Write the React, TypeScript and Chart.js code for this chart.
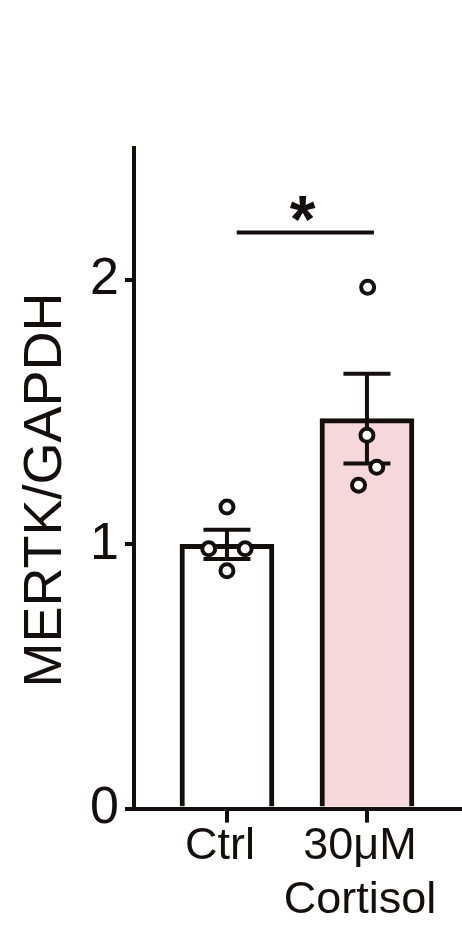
import { Chart, registerables } from "chart.js";
import { useEffect, useRef } from "react";

Chart.register(...registerables);

const groups = ["Ctrl", "30μM\nCortisol"];
const means = [1.0, 1.476];
const sems = [0.055, 0.17];
const ctrlPoints = [1.141, 0.983, 0.983, 0.9];
const ctrlJitter = [0, -0.13, 0.13, 0];
const cortisolPoints = [1.973, 1.413, 1.292, 1.224];
const cortisolJitter = [0.005, 0, 0.07, -0.06];
const yTicks = [0, 1, 2];
const sigBracket = [0.07, 1.05];
const sigLevel = 2.18;
const sigMark = "*";

const INK = "#140f0d";
const PINK = "#f5d7dc";
const FONT = "'Liberation Sans', Arial, sans-serif";

const errorBars = {
  id: "errorBars",
  afterDatasetDraw(chart: any, args: any) {
    if (args.index !== 0) return;
    const { ctx, scales } = chart;
    ctx.save();
    ctx.strokeStyle = INK;
    ctx.lineWidth = 4;
    means.forEach((m, i) => {
      const x = scales.x.getPixelForValue(i);
      const top = scales.y.getPixelForValue(m + sems[i]);
      const bot = scales.y.getPixelForValue(m - sems[i]);
      ctx.beginPath();
      ctx.moveTo(x, top);
      ctx.lineTo(x, bot);
      ctx.moveTo(x - 23.5, top);
      ctx.lineTo(x + 23.5, top);
      ctx.moveTo(x - 23.5, bot);
      ctx.lineTo(x + 23.5, bot);
      ctx.stroke();
    });
    ctx.restore();
  },
};

const annotations = {
  id: "annotations",
  afterDraw(chart: any) {
    const { ctx, scales, chartArea } = chart;
    ctx.save();
    // x tick marks
    ctx.strokeStyle = INK;
    ctx.lineWidth = 4;
    scales.x.ticks.forEach((t: any) => {
      const x = Math.round(scales.x.getPixelForValue(t.value));
      ctx.beginPath();
      ctx.moveTo(x, chartArea.bottom);
      ctx.lineTo(x, chartArea.bottom + 14);
      ctx.stroke();
    });
    ctx.fillStyle = INK;
    // significance star
    ctx.font = `bold 66px ${FONT}`;
    ctx.textAlign = "center";
    ctx.textBaseline = "alphabetic";
    const mt = ctx.measureText(sigMark);
    const sx = scales.x.getPixelForValue(0.54);
    const sy = scales.y.getPixelForValue(2.27);
    ctx.fillText(sigMark, sx, sy - (mt.actualBoundingBoxDescent - mt.actualBoundingBoxAscent) / 2);
    // y title
    ctx.font = `54px ${FONT}`;
    ctx.textBaseline = "middle";
    ctx.translate(44, 490);
    ctx.rotate(-Math.PI / 2);
    ctx.fillText("MERTK/GAPDH", 0, 2);
    ctx.restore();
  },
};

export default function App() {
  const canvasRef = useRef<HTMLCanvasElement | null>(null);
  useEffect(() => {
    document.body.style.margin = "0";
    if (!canvasRef.current) return;
    const pointStyle = {
      type: "scatter" as const,
      pointRadius: 6.5,
      pointBorderWidth: 4,
      pointBackgroundColor: "#ffffff",
      pointBorderColor: INK,
      order: 1,
    };
    const chart = new Chart(canvasRef.current, {
      type: "bar",
      data: {
        datasets: [
          {
            type: "bar",
            data: means.map((m, i) => ({ x: i, y: m })),
            backgroundColor: ["#ffffff", PINK],
            borderColor: INK,
            borderWidth: 5,
            barThickness: 94,
            order: 3,
          } as any,
          {
            type: "line",
            data: sigBracket.map((x) => ({ x, y: sigLevel })),
            borderColor: INK,
            borderWidth: 4,
            pointRadius: 0,
            order: 2,
          } as any,
          { ...pointStyle, data: ctrlPoints.map((y, i) => ({ x: ctrlJitter[i], y })) } as any,
          { ...pointStyle, data: cortisolPoints.map((y, i) => ({ x: 1 + cortisolJitter[i], y })) } as any,
        ],
      },
      options: {
        responsive: false,
        animation: false,
        layout: { autoPadding: false, padding: { top: 148, right: 0, left: 0, bottom: 0 } },
        plugins: { legend: { display: false }, tooltip: { enabled: false } },
        scales: {
          x: {
            type: "linear",
            min: -0.664,
            max: 1.679,
            offset: false,
            border: { display: true, width: 4, color: INK },
            grid: { display: false },
            afterBuildTicks: (scale: any) => {
              scale.ticks = groups.map((_, i) => ({ value: i }));
            },
            afterFit: (scale: any) => {
              scale.height = 116.4;
              scale.paddingLeft = 0;
              scale.paddingRight = 0;
            },
            ticks: {
              color: INK,
              font: { family: FONT, size: 45 },
              padding: 3,
              labelOffset: -7,
              maxRotation: 0,
              autoSkip: false,
              callback: (v: any) => groups[Math.round(Number(v))].split("\n"),
            },
          },
          y: {
            min: 0,
            max: 2.5,
            border: { display: true, width: 4, color: INK },
            grid: { display: true, drawOnChartArea: false, drawTicks: true, tickLength: 9, lineWidth: 4, color: INK },
            afterBuildTicks: (scale: any) => {
              scale.ticks = yTicks.map((value) => ({ value }));
            },
            afterFit: (scale: any) => {
              scale.width = 134;
            },
            ticks: {
              color: INK,
              font: { family: FONT, size: 52 },
              padding: 6,
              callback: (v: any) => String(v),
            },
          },
        },
      },
      plugins: [errorBars, annotations],
    });
    return () => chart.destroy();
  }, []);
  return <canvas ref={canvasRef} width={462} height={925} style={{ display: "block" }} />;
}
